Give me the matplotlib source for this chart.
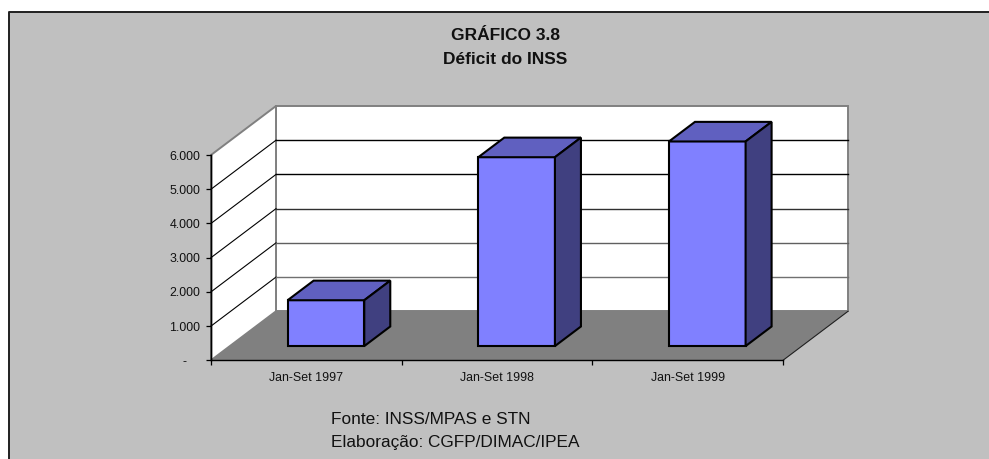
import numpy as np
import matplotlib
matplotlib.use('Agg')
import matplotlib.pyplot as plt
from matplotlib.patches import Polygon, Rectangle

plt.rcParams['font.family'] = ['Liberation Sans', 'DejaVu Sans']

# dados
categorias = ['Jan-Set 1997', 'Jan-Set 1998', 'Jan-Set 1999']
deficit = [1340, 5520, 5980]
ticks_y = [0, 1000, 2000, 3000, 4000, 5000, 6000]
labels_y = ['-', '1.000', '2.000', '3.000', '4.000', '5.000', '6.000']
cores_grade = ['#000000', '#000000', '#303030', '#606060', '#707070']

W, H = 989, 459
fig = plt.figure(figsize=(W / 100, H / 100), dpi=100, facecolor='white')

# fundo cinza com a moldura
fig.add_artist(Rectangle((9 / W, 0), 1, 1 - 12 / H, transform=fig.transFigure,
                         facecolor='#c0c0c0', edgecolor='none', zorder=-2))
fig.add_artist(plt.Line2D([9 / W, 9 / W, 1], [0, 1 - 12 / H, 1 - 12 / H],
                          transform=fig.transFigure, color='#202020', lw=1.4, zorder=-1))

# eixos no plano da frente, o resto e projetado com a profundidade
esq, dir_, base, topo = 211, 783, 360.3, 155
ax = fig.add_axes([esq / W, 1 - base / H, (dir_ - esq) / W, (base - topo) / H])
ax.set_xlim(0, 3)
ax.set_ylim(0, 6000)
ax.patch.set_visible(False)

prof_x = 65 / ((dir_ - esq) / 3)
prof_y = 49 / ((base - topo) / 6000)


def proj(x, v, d):
    return (x + d * prof_x, v + d * prof_y)


def poligono(pts, **kw):
    ax.add_patch(Polygon(pts, closed=True, clip_on=False, **kw))


# parede de fundo, parede lateral e chao
poligono([proj(0, 0, 1), proj(3, 0, 1), proj(3, 6000, 1), proj(0, 6000, 1)],
         facecolor='white', edgecolor='#808080', lw=1.4, zorder=1)
poligono([proj(0, 0, 0), proj(0, 0, 1), proj(0, 6000, 1), proj(0, 6000, 0)],
         facecolor='white', edgecolor='#808080', lw=1.4, zorder=1)
poligono([proj(0, 0, 0), proj(3, 0, 0), proj(3, 0, 1), proj(0, 0, 1)],
         facecolor='#808080', edgecolor='none', zorder=1)
a, b = proj(3, 0, 0), proj(3, 0, 1)
ax.plot([a[0], b[0]], [a[1], b[1]], color='#202020', lw=0.8, clip_on=False, zorder=2)
a, b = proj(0, 0, 0), proj(0, 6000, 0)
ax.plot([a[0], b[0]], [a[1], b[1]], color='black', lw=1.0, clip_on=False, zorder=2)

# linhas de grade
for v, c in zip(ticks_y[-2:0:-1], cores_grade):
    p0, p1, p2 = proj(0, v, 0), proj(0, v, 1), proj(3, v, 1)
    ax.plot([p0[0], p1[0]], [p0[1], p1[1]], color='black', lw=0.8, clip_on=False, zorder=2)
    ax.plot([p1[0], p2[0]], [p1[1], p2[1]], color=c, lw=1.0, clip_on=False, zorder=2)

# barras
largura = 0.402
d0, d1 = 0.29, 0.69
for i, v in enumerate(deficit):
    x0 = i + 0.303
    x1 = x0 + largura
    estilo = dict(edgecolor='black', lw=1.5, joinstyle='miter', zorder=5)
    poligono([proj(x0, 0, d0), proj(x1, 0, d0), proj(x1, v, d0), proj(x0, v, d0)],
             facecolor='#8080ff', **estilo)
    poligono([proj(x0, v, d0), proj(x1, v, d0), proj(x1, v, d1), proj(x0, v, d1)],
             facecolor='#6060c0', **estilo)
    poligono([proj(x1, 0, d0), proj(x1, 0, d1), proj(x1, v, d1), proj(x1, v, d0)],
             facecolor='#404080', **estilo)

# eixos e textos
for s in ['top', 'right']:
    ax.spines[s].set_visible(False)
ax.spines['left'].set_linewidth(1.0)
ax.spines['bottom'].set_linewidth(1.0)
ax.spines['left'].set_zorder(3)
ax.spines['bottom'].set_zorder(3)
ax.set_yticks(ticks_y)
ax.set_yticklabels(labels_y, fontsize=8.9, color='#111111')
ax.get_yticklabels()[0].set_x(-0.023)  # o "-" fica mais afastado no original
ax.set_xticks([0, 1, 2, 3])
ax.set_xticklabels([])
ax.set_xticks([0.5, 1.5, 2.5], minor=True)
ax.set_xticklabels(categorias, minor=True, fontsize=8.9, color='#111111')
ax.tick_params(axis='x', which='minor', length=0, pad=8.5)
ax.tick_params(axis='x', which='major', length=3.6, width=0.9)
ax.tick_params(axis='y', length=3.6, width=0.9, pad=4.3)

fig.text(505.5 / W, 1 - 36 / H, 'GRÁFICO 3.8', ha='center', va='center',
         fontsize=12.5, fontweight='bold', color='#111111')
fig.text(505.5 / W, 1 - 59 / H, 'Déficit do INSS', ha='center', va='center',
         fontsize=12.5, fontweight='bold', color='#111111')
fig.text(331 / W, 1 - 419 / H, 'Fonte: INSS/MPAS e STN', ha='left', va='center',
         fontsize=12.4, color='#111111')
fig.text(331 / W, 1 - 442.5 / H, 'Elaboração: CGFP/DIMAC/IPEA', ha='left', va='center',
         fontsize=12.4, color='#111111')

fig.savefig('out.png', dpi=100, facecolor=fig.get_facecolor())
